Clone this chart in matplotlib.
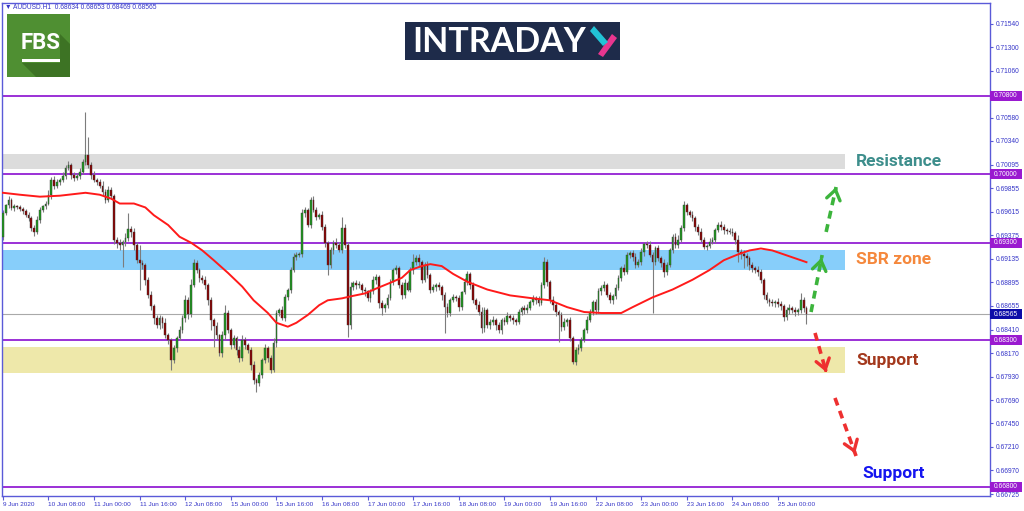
import matplotlib
matplotlib.use("Agg")
import matplotlib.pyplot as plt
from matplotlib.patches import Rectangle, Polygon
from matplotlib.transforms import blended_transform_factory
import numpy as np

# ---------------- data (prices in pips, 1 pip = 0.0001) ----------------
first_open = 6936
closes = [6960, 6968, 6974, 6965, 6967, 6966, 6964, 6962, 6958, 6955, 6945,
          6941, 6953, 6963, 6967, 6970, 6979, 6994, 6988, 6992, 6994,
          6998, 7006, 7009, 6999, 6996, 6998, 7002, 7012, 7020, 7009,
          6999, 6994, 6992, 6988, 6982, 6974, 6984, 6978, 6933, 6930,
          6928, 6931, 6935, 6944, 6941, 6928, 6912, 6909, 6907, 6892,
          6876, 6865, 6853, 6846, 6853, 6848, 6835, 6830, 6810, 6822,
          6832, 6841, 6853, 6871, 6857, 6887, 6909, 6902, 6894, 6892,
          6887, 6871, 6851, 6845, 6835, 6817, 6835, 6858, 6841, 6825,
          6832, 6820, 6812, 6830, 6825, 6820, 6805, 6789, 6786, 6795,
          6810, 6822, 6812, 6800, 6827, 6858, 6861, 6853, 6874, 6882,
          6902, 6915, 6917, 6918, 6960, 6963, 6948, 6974, 6963, 6956,
          6958, 6946, 6930, 6907, 6922, 6930, 6928, 6922, 6945, 6928,
          6846, 6885, 6889, 6887, 6887, 6882, 6880, 6873, 6880, 6892,
          6895, 6868, 6863, 6866, 6873, 6890, 6902, 6904, 6887, 6876,
          6889, 6882, 6902, 6910, 6914, 6910, 6892, 6907, 6897, 6882,
          6885, 6887, 6885, 6876, 6864, 6858, 6871, 6874, 6873, 6864,
          6879, 6890, 6898, 6887, 6871, 6866, 6859, 6843, 6861, 6846,
          6849, 6851, 6846, 6841, 6851, 6849, 6855, 6853, 6851, 6849,
          6859, 6863, 6861, 6863, 6869, 6873, 6871, 6868, 6887, 6910,
          6890, 6871, 6866, 6859, 6856, 6844, 6849, 6851, 6832, 6808,
          6820, 6822, 6830, 6841, 6851, 6859, 6869, 6861, 6880, 6884, 6887,
          6876, 6871, 6875, 6884, 6894, 6904, 6900, 6917, 6919,
          6915, 6907, 6910, 6920, 6929, 6928, 6917, 6910, 6925, 6914,
          6909, 6900, 6907, 6922, 6936, 6928, 6933, 6945, 6968, 6961,
          6958, 6955, 6946, 6941, 6933, 6926, 6927, 6931, 6933, 6943,
          6948, 6946, 6943, 6942, 6941, 6940, 6933, 6920, 6918, 6916,
          6914, 6907, 6904, 6902, 6900, 6892, 6876, 6871, 6869, 6868,
          6869, 6867, 6865, 6854, 6861, 6863, 6861, 6859, 6861, 6871, 6863, 6857]

upper_wick = [3, 2, 4, 2, 3, 2, 3, 2, 2, 3,
              2, 3, 4, 3, 2, 3, 5, 3, 4, 3,
              2, 4, 3, 5, 2, 3, 3, 4, 4, 44,
              18, 3, 4, 2, 3, 5, 3, 4, 3, 2,
              3, 4, 2, 5, 16, 3, 4, 3, 16, 3,
              2, 3, 4, 2, 3, 3, 2, 5, 3, 2,
              3, 2, 4, 3, 5, 3, 6, 4, 3, 2,
              3, 4, 2, 3, 2, 4, 2, 5, 8, 3,
              2, 3, 2, 4, 5, 3, 2, 3, 4, 2,
              3, 2, 4, 2, 3, 5, 3, 2, 4, 3,
              2, 3, 4, 3, 2, 4, 3, 2, 3, 4,
              3, 2, 4, 3, 2, 4, 3, 5, 3, 11,
              4, 3, 5, 2, 3, 4, 2, 3, 2, 3,
              4, 3, 2, 3, 2, 4, 3, 2, 3, 2,
              3, 4, 2, 3, 8, 3, 4, 2, 3, 4,
              2, 3, 2, 3, 2, 3, 4, 2, 3, 2,
              3, 2, 4, 3, 2, 3, 2, 4, 5, 3,
              2, 3, 4, 2, 3, 2, 3, 4, 2, 3,
              2, 3, 2, 3, 4, 2, 3, 2, 4, 3,
              5, 3, 2, 4, 3, 2, 3, 4, 2, 3,
              2, 3, 4, 3, 2, 4, 3, 2, 3, 4,
              3, 4, 2, 3, 2, 4, 3, 2, 4, 3,
              2, 3, 4, 3, 5, 2, 3, 4, 3, 2,
              3, 2, 4, 3, 2, 3, 4, 5, 3, 5,
              3, 2, 4, 2, 3, 4, 3, 2, 4, 3,
              2, 3, 4, 3, 2, 3, 4, 2, 5, 3,
              4, 3, 2, 3, 2, 4, 3, 2, 3, 2,
              3, 2, 4, 3, 2, 3, 4, 2, 3, 2,
              7, 3, 2]

lower_wick = [3, 2, 3, 2, 3, 2, 2, 3, 2, 3,
              3, 4, 2, 3, 2, 3, 2, 4, 3, 2,
              3, 2, 3, 2, 4, 3, 2, 3, 2, 3,
              3, 4, 2, 3, 2, 4, 3, 2, 3, 4,
              5, 6, 23, 4, 3, 5, 6, 3, 27, 4,
              5, 3, 4, 6, 3, 4, 5, 3, 4, 10,
              3, 4, 2, 3, 4, 5, 3, 2, 3, 4,
              3, 4, 5, 10, 22, 4, 3, 4, 5, 3,
              4, 3, 5, 4, 3, 4, 3, 5, 4, 9,
              3, 4, 3, 4, 3, 2, 4, 3, 2, 3,
              3, 4, 2, 3, 2, 3, 4, 2, 3, 2,
              3, 2, 3, 4, 10, 3, 4, 3, 2, 3,
              3, 13, 4, 3, 4, 3, 4, 5, 3, 4,
              3, 4, 5, 7, 4, 3, 2, 3, 4, 3,
              4, 3, 2, 3, 4, 3, 4, 3, 2, 3,
              4, 3, 4, 3, 5, 26, 4, 3, 2, 3,
              4, 3, 2, 3, 4, 3, 4, 3, 5, 4,
              3, 4, 3, 5, 3, 4, 3, 2, 3, 4,
              3, 2, 3, 4, 3, 2, 3, 4, 3, 2,
              3, 4, 3, 5, 4, 28, 4, 3, 4, 3,
              2, 3, 4, 3, 2, 3, 2, 3, 4, 3,
              4, 3, 2, 3, 4, 3, 2, 3, 3, 2,
              3, 4, 3, 2, 3, 4, 3, 2, 52, 3,
              3, 4, 5, 3, 2, 3, 4, 3, 2, 3,
              3, 2, 3, 4, 3, 2, 3, 4, 3, 2,
              3, 2, 3, 4, 3, 2, 3, 4, 10, 5,
              12, 8, 5, 4, 3, 4, 3, 4, 3, 4,
              3, 4, 3, 4, 4, 3, 4, 3, 4, 3,
              3, 4, 10]

# moving average: (candle index, pips)
ma_index = [0, 6, 13, 20, 29, 34, 38, 41, 46, 50, 53, 58, 62, 66, 70, 74, 79, 84, 88,
            93, 96, 100, 103, 107, 111, 114, 119, 122, 127, 131, 136, 140, 143, 147,
            150, 154, 158, 163, 170, 178, 186, 192, 198, 204, 210, 217, 221, 228,
            235, 242, 248, 253, 258, 262, 266, 270, 275, 280, 282]
ma_value = [6981, 6979, 6977, 6978, 6981, 6979, 6975, 6970, 6970, 6966, 6958, 6948,
            6936, 6930, 6922, 6912, 6899, 6885, 6871, 6858, 6848, 6844, 6848, 6856,
            6866, 6871, 6873, 6875, 6878, 6883, 6889, 6894, 6902, 6906, 6908, 6906,
            6898, 6890, 6882, 6876, 6873, 6871, 6864, 6859, 6858, 6858, 6864, 6874,
            6882, 6892, 6902, 6912, 6918, 6922, 6924, 6922, 6917, 6912, 6910]

x_tick_labels = ["9 Jun 2020", "10 Jun 08:00", "11 Jun 00:00", "11 Jun 16:00",
                 "12 Jun 08:00", "15 Jun 00:00", "15 Jun 16:00", "16 Jun 08:00",
                 "17 Jun 00:00", "17 Jun 16:00", "18 Jun 08:00", "19 Jun 00:00",
                 "19 Jun 16:00", "22 Jun 08:00", "23 Jun 00:00", "23 Jun 16:00",
                 "24 Jun 08:00", "25 Jun 00:00"]
candles_per_label = 16

price_ticks = [0.71540, 0.71300, 0.71060, 0.70580, 0.70340, 0.70095, 0.69855,
               0.69615, 0.69375, 0.69135, 0.68895, 0.68655, 0.68410, 0.68170,
               0.67930, 0.67690, 0.67450, 0.67210, 0.66970, 0.66725]
level_lines = [0.70800, 0.70000, 0.69300, 0.68300, 0.66800]
bid_price = 0.68565
zone_resistance = (0.70053, 0.70207)
zone_sbr = (0.69020, 0.69225)
zone_support = (0.67966, 0.68232)
header = "\u25BC AUDUSD.H1  0.68634 0.68653 0.68469 0.68565"

# ---------------- figure ----------------
W, H = 1024, 511
fig = plt.figure(figsize=(W / 100, H / 100), dpi=100)
fig.patch.set_facecolor("white")

def fx(x):
    return x / W

def fy(y):
    return 1 - y / H

L, R, T, B = 2, 990, 3, 496
ax = fig.add_axes([fx(L), fy(B), (R - L) / W, (B - T) / H])
ax.set_facecolor("white")
ax.set_xlim(-0.3, 346.4)
ax.set_ylim(0.667079, 0.717514)

axis_blue = "#5a5ad8"
text_blue = "#3434c8"
purple = "#9b30d6"

scale = 1e-4
c = np.array(closes) * scale
o = np.concatenate([[first_open * scale], c[:-1]])
hi = np.maximum(o, c) + np.array(upper_wick) * scale
lo = np.minimum(o, c) - np.array(lower_wick) * scale
idx = np.arange(len(c))

# zones
zone_end = 295.5
for (z0, z1), col in [(zone_resistance, "#dcdcdc"), (zone_sbr, "#87cefa"),
                      (zone_support, "#eee8aa")]:
    ax.add_patch(Rectangle((-0.3, z0), zone_end + 0.3, z1 - z0, facecolor=col,
                           edgecolor="none", zorder=1))

# level lines
for lv in level_lines:
    ax.axhline(lv, color=purple, lw=1.4, zorder=1.5)
ax.axhline(bid_price, color="#a9a9a9", lw=0.8, zorder=1.5)

# candles
ax.vlines(idx, lo, hi, color="#7c7c7c", lw=0.8, zorder=2)
bull = c >= o
body_bottom = np.minimum(o, c)
body_h = np.maximum(np.abs(c - o), 0.00003)
ax.bar(idx[bull], body_h[bull], bottom=body_bottom[bull], width=0.62,
       color="#1f9a1f", edgecolor="#3a3a3a", linewidth=0.3, zorder=3)
ax.bar(idx[~bull], body_h[~bull], bottom=body_bottom[~bull], width=0.62,
       color="#8b0000", edgecolor="#3a3a3a", linewidth=0.3, zorder=3)

# moving average
ax.plot(ma_index, np.array(ma_value) * scale, color="#ff1a1a", lw=1.4, zorder=4)

# spines
for s in ax.spines.values():
    s.set_color(axis_blue)
    s.set_linewidth(1.0)

# x ticks
ax.set_xticks(np.arange(len(x_tick_labels)) * candles_per_label)
ax.set_xticklabels(x_tick_labels, fontsize=4.6, color=text_blue,
                   family="Liberation Sans")
for lab in ax.get_xticklabels():
    lab.set_ha("left")
ax.tick_params(axis="x", length=3, color=axis_blue, pad=1.5, width=0.8)

# y ticks on right
ax.yaxis.tick_right()
ax.set_yticks(price_ticks)
ax.set_yticklabels([f"{v:.5f}" for v in price_ticks], fontsize=4.8,
                   color=text_blue, family="Liberation Sans")
ax.tick_params(axis="y", length=2.5, color=axis_blue, pad=1.5, width=0.8)

# boxed price labels
btr = blended_transform_factory(ax.transAxes, ax.transData)
box_w = 32 / (R - L)
box_h = 10 / 9775
for lv in level_lines:
    ax.add_patch(Rectangle((1.0, lv - box_h / 2), box_w, box_h, transform=btr,
                           facecolor="#9a1ad0", edgecolor="none", clip_on=False,
                           zorder=6))
    ax.text(1.0 + box_w / 2, lv, f"{lv:.5f}", transform=btr, ha="center",
            va="center", fontsize=4.8, color="white", family="Liberation Sans",
            zorder=7, clip_on=False)
ax.add_patch(Rectangle((1.0, bid_price - box_h / 2), box_w, box_h, transform=btr,
                       facecolor="#0c0ca8", edgecolor="none", clip_on=False, zorder=6))
ax.text(1.0 + box_w / 2, bid_price, f"{bid_price:.5f}", transform=btr, ha="center",
        va="center", fontsize=4.8, color="white", family="Liberation Sans", zorder=7,
        clip_on=False)

# zone labels
lab_x = 299.4
ax.text(lab_x, sum(zone_resistance) / 2, "Resistance", color="#3d8e8c",
        fontsize=12.5, fontweight="bold", family="Roboto", va="center", ha="left",
        zorder=6)
ax.text(lab_x, sum(zone_sbr) / 2, "SBR zone", color="#f5883c", fontsize=12.5,
        fontweight="bold", family="Roboto", va="center", ha="left", zorder=6)
ax.text(lab_x, sum(zone_support) / 2, "Support", color="#a3381c", fontsize=12.5,
        fontweight="bold", family="Roboto", va="center", ha="left", zorder=6)
ax.text(301.6, 0.6694, "Support", color="#1414f0", fontsize=12.5,
        fontweight="bold", family="Roboto", va="center", ha="left", zorder=6)

# dashed arrows
def dashed_arrow(x0, y0, x1, y1, col):
    ax.plot([x0, x1], [y0, y1], color=col, lw=2.6, ls=(0, (2.2, 1.6)),
            zorder=6, solid_capstyle="butt", dash_capstyle="butt")
    dx, dy = x1 - x0, y1 - y0
    ax.annotate("", xy=(x1, y1), xytext=(x1 - 0.12 * dx, y1 - 0.12 * dy),
                arrowprops=dict(arrowstyle="->,head_length=0.5,head_width=0.35",
                                color=col, lw=2.4, mutation_scale=14),
                zorder=7)

green = "#3cb43c"
red = "#ee3030"
dashed_arrow(288.9, 0.69409, 292.4, 0.69869, green)
dashed_arrow(283.6, 0.68590, 287.5, 0.69173, green)
dashed_arrow(285.0, 0.68376, 288.9, 0.67977, red)
dashed_arrow(292.0, 0.67711, 299.4, 0.67117, red)

# header text
fig.text(fx(5), fy(7), header, fontsize=4.8, color=text_blue,
         family=["Liberation Sans", "DejaVu Sans"], va="center", ha="left")

# FBS logo
fig.add_artist(Rectangle((fx(7), fy(77)), 63 / W, 63 / H, transform=fig.transFigure,
                         facecolor="#4f8f32", edgecolor="none"))
fig.add_artist(Polygon([(fx(60), fy(34)), (fx(70), fy(44)), (fx(70), fy(77)),
                        (fx(36), fy(77)), (fx(22), fy(63)), (fx(60), fy(63))],
                       closed=True, transform=fig.transFigure,
                       facecolor="#3d7324", edgecolor="none"))
fig.text(fx(41), fy(43), "FBS", color="white", fontsize=16, fontweight="bold",
         family="Roboto", ha="center", va="center")
fig.add_artist(Rectangle((fx(22), fy(62)), 38 / W, 3 / H, transform=fig.transFigure,
                         facecolor="white", edgecolor="none"))

# INTRADAY logo
fig.add_artist(Rectangle((fx(405), fy(60)), 215 / W, 38 / H, transform=fig.transFigure,
                         facecolor="#1e2b4a", edgecolor="none"))
fig.text(fx(499), fy(42), "INTRADAY", color="white", fontsize=24.5, fontweight="bold",
         family="Lato", ha="center", va="center")
fig.add_artist(Polygon([(fx(598), fy(54)), (fx(612), fy(34)), (fx(617), fy(38)),
                        (fx(603), fy(57))], closed=True, transform=fig.transFigure,
                       facecolor="#e8368f", edgecolor="none"))
fig.add_artist(Polygon([(fx(594), fy(26)), (fx(608), fy(42)), (fx(603), fy(46)),
                        (fx(590), fy(31))], closed=True, transform=fig.transFigure,
                       facecolor="#22c3d6", edgecolor="none"))

fig.savefig("out.png", dpi=100)
